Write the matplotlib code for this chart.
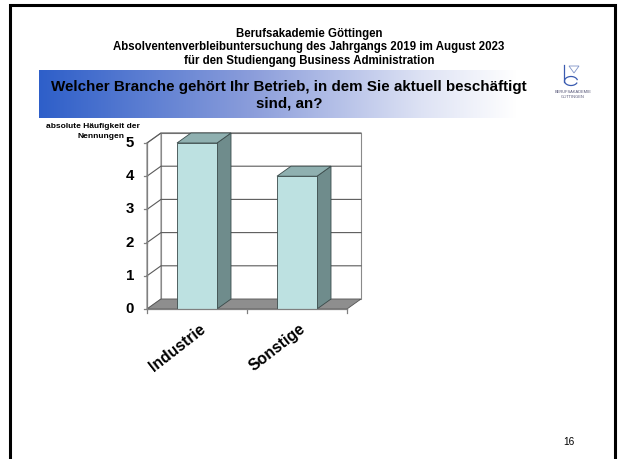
import numpy as np
import matplotlib
matplotlib.use("Agg")
import matplotlib.pyplot as plt
from matplotlib.patches import Polygon, Rectangle
from matplotlib.colors import LinearSegmentedColormap

plt.rcParams['font.family'] = ['Liberation Sans', 'DejaVu Sans']

# ---------------- data ----------------
categories = ["Industrie", "Sonstige"]
values = [5, 4]
yticks = [0, 1, 2, 3, 4, 5]
header_lines = ["Berufsakademie Göttingen",
                "Absolventenverbleibuntersuchung des Jahrgangs 2019 im August 2023",
                "für den Studiengang Business Administration"]
question = "Welcher Branche gehört Ihr Betrieb, in dem Sie aktuell beschäftigt\nsind, an?"
ylabel = "absolute Häufigkeit der\nNennungen"
page_no = "16"

W, H = 619, 459
fig = plt.figure(figsize=(W / 100, H / 100), dpi=100)
fig.patch.set_facecolor("white")

# ---------------- page layer (pixel coords) ----------------
page = fig.add_axes([0, 0, 1, 1])
page.set_xlim(0, W)
page.set_ylim(H, 0)
page.axis("off")

# slide border
page.plot([9.5, 9.5, 615, 615], [470, 5, 5, 470], color="black", lw=2.2,
          solid_joinstyle="miter")

# header
for i, line in enumerate(header_lines):
    page.text(309, 34 + i * 13.3, line, ha="center", va="center",
              fontsize=8.3, fontweight="bold", color="black")

# banner gradient
cmap = LinearSegmentedColormap.from_list(
    "ban", [(0.0, "#2e5fc9"), (0.45, "#8c9edb"), (0.8, "#dde2f4"), (1.0, "#ffffff")])
grad = np.linspace(0, 1, 256).reshape(1, -1)
page.imshow(grad, cmap=cmap, extent=(39, 517, 118, 70), aspect="auto",
            interpolation="bilinear", zorder=1)
page.set_xlim(0, W)
page.set_ylim(H, 0)
page.text(289, 95, question, ha="center", va="center", fontsize=10.9,
          fontweight="bold", color="black", linespacing=1.22, zorder=2)

# logo
page.plot([564, 564], [65, 82], color="#3a5bb0", lw=0.9)
page.add_patch(Polygon([(569, 66), (579, 66), (574, 73)], closed=True,
                       fill=False, edgecolor="#7f93c8", lw=0.6))
t = np.linspace(0.15 * np.pi, 1.9 * np.pi, 60)
page.plot(571 + 6.5 * np.cos(t), 81 + 4.5 * np.sin(t), color="#3a5bb0", lw=0.9)
page.text(573, 92, "BERUFSAKADEMIE", ha="center", va="center", fontsize=2.9,
          color="#555577")
page.text(573, 96.5, "GÖTTINGEN", ha="center", va="center", fontsize=2.9,
          color="#555577")

# page number
page.text(569, 442, page_no, ha="center", va="center", fontsize=7.3, color="black")

# ---------------- chart ----------------
x0, x1 = 147, 347
y0, y1 = 309, 143
ax = fig.add_axes([x0 / W, 1 - y0 / H, (x1 - x0) / W, (y0 - y1) / H])
ax.set_xlim(0, len(categories))
ax.set_ylim(0, max(yticks))
ax.axis("off")

px_x = (x1 - x0) / len(categories)      # pixels per x unit
px_y = (y0 - y1) / max(yticks)          # pixels per value unit
dx = 14 / px_x
dy = 10 / px_y
ymax = max(yticks)
nx = len(categories)
grid_c = "#5a5a5a"
wall_c = "#8a8a8a"

kw = dict(clip_on=False)
# back wall
ax.add_patch(Polygon([(dx, dy), (nx + dx, dy), (nx + dx, ymax + dy), (dx, ymax + dy)],
                     closed=True, facecolor="white", edgecolor=wall_c, lw=0.8, **kw))
# side wall
ax.add_patch(Polygon([(0, 0), (dx, dy), (dx, ymax + dy), (0, ymax)],
                     closed=True, facecolor="white", edgecolor=wall_c, lw=0.8, **kw))
# gridlines
for v in yticks[1:]:
    ax.plot([0, dx, nx + dx], [v, v + dy, v + dy], color=grid_c, lw=0.8, **kw)
# floor
ax.add_patch(Polygon([(0, 0), (nx, 0), (nx + dx, dy), (dx, dy)], closed=True,
                     facecolor="#8e8e8e", edgecolor="#555555", lw=0.6, **kw))

# bars
bw = 0.4
face_c, side_c, top_c, edge_c = "#bde1e1", "#6f8c8c", "#8fb0b0", "#3a4a4a"
for i, v in enumerate(values):
    c = i + 0.5
    l, r = c - bw / 2, c + bw / 2
    ax.add_patch(Polygon([(r, 0), (r + dx, dy), (r + dx, v + dy), (r, v)], closed=True,
                         facecolor=side_c, edgecolor=edge_c, lw=0.6, zorder=3, **kw))
    ax.add_patch(Polygon([(l, v), (r, v), (r + dx, v + dy), (l + dx, v + dy)], closed=True,
                         facecolor=top_c, edgecolor=edge_c, lw=0.6, zorder=3, **kw))
    ax.add_patch(Rectangle((l, 0), bw, v, facecolor=face_c, edgecolor=edge_c, lw=0.6,
                           zorder=4, **kw))

# front axes lines
ax.plot([0, 0], [0, ymax], color="#808080", lw=0.9, zorder=5, **kw)
ax.plot([0, nx], [0, 0], color="#808080", lw=0.9, zorder=5, **kw)
for v in yticks:
    ax.plot([-3 / px_x, 0], [v, v], color="#808080", lw=0.9, zorder=5, **kw)
    ax.text(-13 / px_x, v, str(v), ha="right", va="center", fontsize=10.8,
            fontweight="bold", **kw)
for k in range(nx + 1):
    ax.plot([k, k], [0, -4 / px_y], color="#808080", lw=0.9, zorder=5, **kw)
for i, cat in enumerate(categories):
    ax.text(i + 0.5 + 0.065, -18 / px_y, cat, rotation=38, rotation_mode="anchor",
            ha="right", va="center", fontsize=11.3, fontweight="bold", **kw)

# y-axis label
page.text(93, 127, ylabel.split("\n")[0], ha="center", va="center", fontsize=6,
          fontweight="bold")
page.text(101, 136.5, ylabel.split("\n")[1], ha="center", va="center", fontsize=6,
          fontweight="bold")

fig.savefig("out.png", dpi=100, facecolor="white")
